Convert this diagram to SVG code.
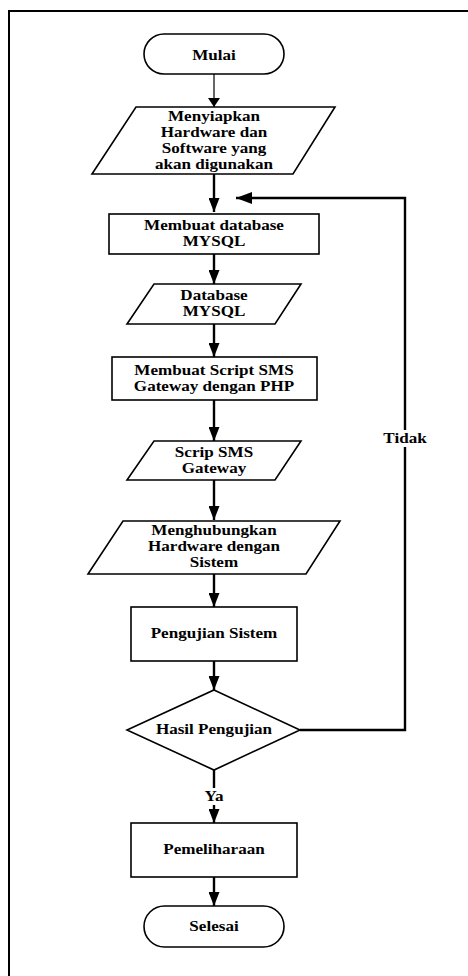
<svg xmlns="http://www.w3.org/2000/svg" width="468" height="976" viewBox="0 0 468 976">
<defs>
<marker id="ah" markerWidth="14" markerHeight="11" refX="14" refY="5.5" orient="auto" markerUnits="userSpaceOnUse">
<path d="M0,0 L14,5.5 L0,11 Z" fill="#000"/>
</marker>
<marker id="ahs" markerWidth="9" markerHeight="12" refX="9" refY="6" orient="auto" markerUnits="userSpaceOnUse">
<path d="M0,0 L9,6 L0,12 Z" fill="#000"/>
</marker>
<marker id="ahl" markerWidth="16" markerHeight="12" refX="16" refY="6" orient="auto" markerUnits="userSpaceOnUse">
<path d="M0,0 L16,6 L0,12 Z" fill="#000"/>
</marker>
</defs>
<style>
.s{fill:#fff;stroke:#000;stroke-width:1.6}
.c{fill:none;stroke:#000;stroke-width:2.4}
.t{font-family:"Liberation Serif","Times New Roman",serif;font-weight:bold;font-size:14px;fill:#000;text-anchor:middle}
</style>
<rect width="468" height="976" fill="#fff"/>
<path d="M9,976 V11 H468" fill="none" stroke="#000" stroke-width="2"/>

<g id="connectors">
<line x1="214" y1="74" x2="214" y2="107" stroke="#000" stroke-width="1.2" marker-end="url(#ahs)"/>
<line class="c" x1="214" y1="174" x2="214" y2="212" marker-end="url(#ah)"/>
<line class="c" x1="214" y1="254" x2="214" y2="284" marker-end="url(#ah)"/>
<line class="c" x1="214" y1="324" x2="214" y2="357" marker-end="url(#ah)"/>
<line class="c" x1="214" y1="400" x2="214" y2="441" marker-end="url(#ah)"/>
<line class="c" x1="214" y1="480" x2="214" y2="520" marker-end="url(#ah)"/>
<line class="c" x1="214" y1="574" x2="214" y2="607" marker-end="url(#ah)"/>
<line class="c" x1="214" y1="661" x2="214" y2="690" marker-end="url(#ah)"/>
<line class="c" x1="214" y1="770" x2="214" y2="788"/>
<line class="c" x1="214" y1="805" x2="214" y2="823" marker-end="url(#ah)"/>
<line class="c" x1="214" y1="877" x2="214" y2="906" marker-end="url(#ah)"/>
<path class="c" d="M300,730 H405 V447"/>
<path class="c" d="M405,430 V198 H236" marker-end="url(#ahl)"/>
<g transform="matrix(1.22,0,0,1,-89.1,0)"><text class="t" x="405" y="442.7">Tidak</text></g>
<g transform="matrix(1.22,0,0,1,-47.08,0)"><text class="t" x="214" y="801">Ya</text></g>
</g>

<g id="mulai">
<rect class="s" x="144" y="34" width="140" height="40" rx="20"/>
<g transform="matrix(1.22,0,0,1,-47.08,0)"><text class="t" x="214" y="60">Mulai</text></g>
</g>

<g id="menyiapkan">
<polygon class="s" points="136,107 335,107 293,174 92,174"/>
<g transform="matrix(1.22,0,0,1,-47.08,0)">
<text class="t" x="214" y="120.7">Menyiapkan</text>
<text class="t" x="214" y="136.7">Hardware dan</text>
<text class="t" x="214" y="152.7">Software yang</text>
<text class="t" x="214" y="169">akan digunakan</text>
</g>
</g>

<g id="membuat-db">
<rect class="s" x="109" y="214" width="210" height="40"/>
<g transform="matrix(1.22,0,0,1,-47.08,0)">
<text class="t" x="214" y="230">Membuat database</text>
<text class="t" x="214" y="246">MYSQL</text>
</g>
</g>

<g id="database">
<polygon class="s" points="154,284 301,284 275,324 127,324"/>
<g transform="matrix(1.22,0,0,1,-47.08,0)">
<text class="t" x="214" y="300">Database</text>
<text class="t" x="214" y="316">MYSQL</text>
</g>
</g>

<g id="membuat-script">
<rect class="s" x="112" y="357" width="205" height="43"/>
<g transform="matrix(1.22,0,0,1,-47.08,0)">
<text class="t" x="214" y="375.3">Membuat Script SMS</text>
<text class="t" x="214" y="390.7">Gateway dengan PHP</text>
</g>
</g>

<g id="scrip">
<polygon class="s" points="154,441 301,441 275,480 127,480"/>
<g transform="matrix(1.22,0,0,1,-47.08,0)">
<text class="t" x="214" y="457.3">Scrip SMS</text>
<text class="t" x="214" y="472.7">Gateway</text>
</g>
</g>

<g id="menghubungkan">
<polygon class="s" points="123,521 340,521 306,574 88,574"/>
<g transform="matrix(1.22,0,0,1,-47.08,0)">
<text class="t" x="214" y="535">Menghubungkan</text>
<text class="t" x="214" y="551">Hardware dengan</text>
<text class="t" x="214" y="566.7">Sistem</text>
</g>
</g>

<g id="pengujian">
<rect class="s" x="131" y="607" width="166" height="54"/>
<g transform="matrix(1.22,0,0,1,-47.08,0)"><text class="t" x="214" y="637.7">Pengujian Sistem</text></g>
</g>

<g id="hasil">
<polygon class="s" points="214,690 300,730 214,770 127,730"/>
<g transform="matrix(1.22,0,0,1,-47.08,0)"><text class="t" x="214" y="734">Hasil Pengujian</text></g>
</g>

<g id="pemeliharaan">
<rect class="s" x="131" y="823" width="166" height="54"/>
<g transform="matrix(1.22,0,0,1,-47.08,0)"><text class="t" x="214" y="854">Pemeliharaan</text></g>
</g>

<g id="selesai">
<rect class="s" x="144" y="906" width="140" height="41" rx="20.5"/>
<g transform="matrix(1.22,0,0,1,-47.08,0)"><text class="t" x="214" y="931">Selesai</text></g>
</g>
</svg>
